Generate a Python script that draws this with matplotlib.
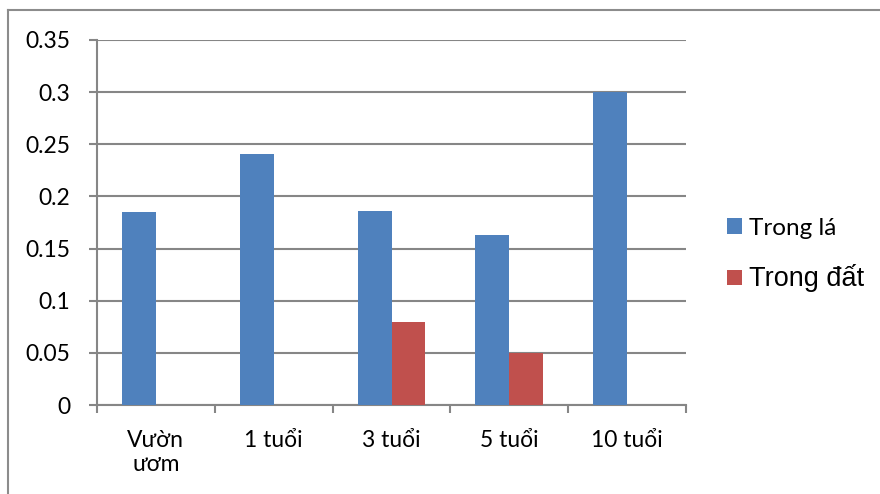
import matplotlib.pyplot as plt
import numpy as np
from matplotlib.lines import Line2D

# số liệu theo tuổi cây
nhom = ["Vườn\nươm", "1 tuổi", "3 tuổi", "5 tuổi", "10 tuổi"]
trong_la = [0.185, 0.241, 0.186, 0.163, 0.30]
trong_dat = [0, 0, 0.08, 0.05, 0]
yticks = [0, 0.05, 0.1, 0.15, 0.2, 0.25, 0.3, 0.35]
ylabels = ["0", "0.05", "0.1", "0.15", "0.2", "0.25", "0.3", "0.35"]

xanh = "#4F81BD"
do = "#C0504D"
xam = "#868686"
font_chu = ["Lato", "DejaVu Sans"]

fig = plt.figure(figsize=(8.8, 4.94), dpi=100)
ax = fig.add_axes([97/880, 1 - 405/494, 589/880, 365/494])

x = np.arange(len(nhom))
w = 0.288
ax.bar(x - w/2, trong_la, w, color=xanh, label="Trong lá", zorder=3)
ax.bar(x + w/2, trong_dat, w, color=do, label="Trong đất", zorder=3)

ax.set_xlim(-0.5, len(nhom) - 0.5)
ax.set_ylim(0, 0.35)
ax.set_yticks(yticks)
ax.set_yticklabels(ylabels, family=font_chu, fontsize=16.5)
ax.set_xticks(x)
ax.set_xticklabels(nhom, family=font_chu, fontsize=16.5, linespacing=1.15)
ax.set_xticks(np.arange(len(nhom) + 1) - 0.5, minor=True)
ax.tick_params(axis="x", which="major", length=0, pad=18)
ax.tick_params(axis="x", which="minor", length=6, width=1.5, color=xam)
ax.tick_params(axis="y", length=6, width=1.5, color=xam, pad=13)

ax.grid(axis="y", color=xam, linewidth=1.5, zorder=0)
for s in ["top", "right"]:
    ax.spines[s].set_visible(False)
for s in ["left", "bottom"]:
    ax.spines[s].set_color(xam)
    ax.spines[s].set_linewidth(1.5)

leg = ax.legend(loc="center left", bbox_to_anchor=(727/880, 1 - 255/494),
                bbox_transform=fig.transFigure, frameon=False,
                prop={"family": font_chu, "size": 17.5},
                handlelength=0.6, handleheight=0.6, handletextpad=0.3,
                labelspacing=1.05, borderaxespad=0, borderpad=0)
leg.get_texts()[1].set_family("Liberation Sans")
leg.get_texts()[1].set_fontsize(19.5)

# khung ngoài
fig.add_artist(Line2D([8/880, 1], [1 - 10/494] * 2, color="#8c8c8c", linewidth=1.5))
fig.add_artist(Line2D([8/880] * 2, [0, 1 - 10/494], color="#8c8c8c", linewidth=1.5))

fig.savefig("out.png", dpi=100)
